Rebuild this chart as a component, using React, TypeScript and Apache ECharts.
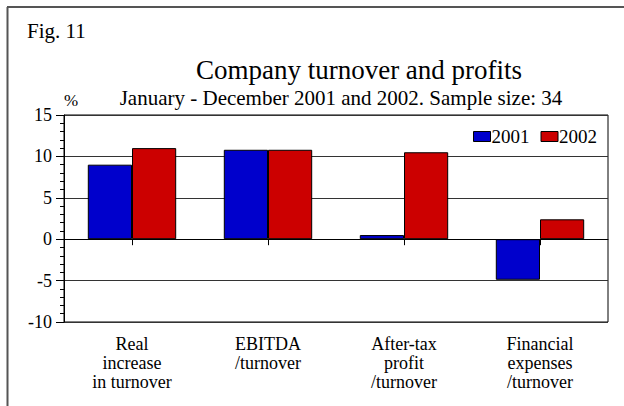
import React, { useEffect, useRef } from "react";
import * as echarts from "echarts";

const categories = [
  "Real\nincrease\nin turnover",
  "EBITDA\n/turnover",
  "After-tax\nprofit\n/turnover",
  "Financial\nexpenses\n/turnover",
];
const series2001 = [9.0, 10.8, 0.5, -4.9];
const series2002 = [11.0, 10.8, 10.5, 2.4];
const seriesNames = ["2001", "2002"];

const FONT = "Liberation Serif";

export default function App() {
  const ref = useRef<HTMLDivElement>(null);
  useEffect(() => {
    if (!ref.current) return;
    const chart = echarts.init(ref.current, null, { renderer: "svg" });
    chart.setOption({
      animation: false,
      backgroundColor: "#fff",
      textStyle: { fontFamily: FONT, color: "#000" },
      title: [
        {
          text: "Company turnover and profits",
          left: 354,
          top: 51,
          textAlign: "center",
          textStyle: { fontFamily: FONT, fontSize: 27, fontWeight: "normal", color: "#000" },
        },
        {
          text: "January - December 2001 and 2002. Sample size: 34",
          left: 336,
          top: 82,
          textAlign: "center",
          textStyle: { fontFamily: FONT, fontSize: 21, fontWeight: "normal", color: "#000" },
        },
      ],
      graphic: [
        { type: "line", shape: { x1: 7.5, y1: 7, x2: 7.5, y2: 406 }, style: { stroke: "#555", lineWidth: 2 } },
        { type: "line", shape: { x1: 7, y1: 7, x2: 624, y2: 7 }, style: { stroke: "#555", lineWidth: 2 } },
        { type: "text", left: 27, top: 20, style: { text: "Fig. 11", font: `21px ${FONT}`, fill: "#000" } },
        { type: "text", left: 64, top: 92, style: { text: "%", font: `17px ${FONT}`, fill: "#000" } },
      ],
      legend: {
        right: 22,
        top: 122,
        itemWidth: 17,
        itemHeight: 10,
        itemGap: 11,
        icon: "rect",
        itemStyle: { borderColor: "#000", borderWidth: 1 },
        textStyle: { fontFamily: FONT, fontSize: 19, color: "#000", padding: [0, 0, 0, -4] },
        data: seriesNames,
      },
      grid: {
        left: 64,
        right: 16,
        top: 115,
        bottom: 84,
        show: true,
        borderColor: "#000",
        borderWidth: 1,
      },
      xAxis: {
        type: "category",
        data: categories,
        axisLine: { lineStyle: { color: "#000" } },
        axisTick: { show: true, alignWithLabel: true, length: 6, lineStyle: { color: "#000" } },
        axisLabel: {
          fontFamily: FONT,
          fontSize: 18,
          color: "#000",
          lineHeight: 19,
          margin: 12,
          interval: 0,
        },
      },
      yAxis: {
        type: "value",
        min: -10,
        max: 15,
        interval: 5,
        axisLine: { show: true, lineStyle: { color: "#000" } },
        axisTick: { show: true, length: 8, lineStyle: { color: "#000" } },
        minorTick: { show: true, splitNumber: 5, length: 4, lineStyle: { color: "#000" } },
        splitLine: { show: true, lineStyle: { color: "#333", width: 1 } },
        axisLabel: { fontFamily: FONT, fontSize: 18, color: "#000", margin: 12 },
      },
      series: [
        {
          name: seriesNames[0],
          type: "bar",
          data: series2001,
          barGap: "0%",
          barCategoryGap: "35%",
          itemStyle: { color: "#0000CC", borderColor: "#000", borderWidth: 1 },
        },
        {
          name: seriesNames[1],
          type: "bar",
          data: series2002,
          barGap: "0%",
          barCategoryGap: "35%",
          itemStyle: { color: "#CC0000", borderColor: "#000", borderWidth: 1 },
        },
      ],
    });
    return () => chart.dispose();
  }, []);
  return <div ref={ref} style={{ width: 624, height: 406, position: "absolute", left: 0, top: 0 }} />;
}
